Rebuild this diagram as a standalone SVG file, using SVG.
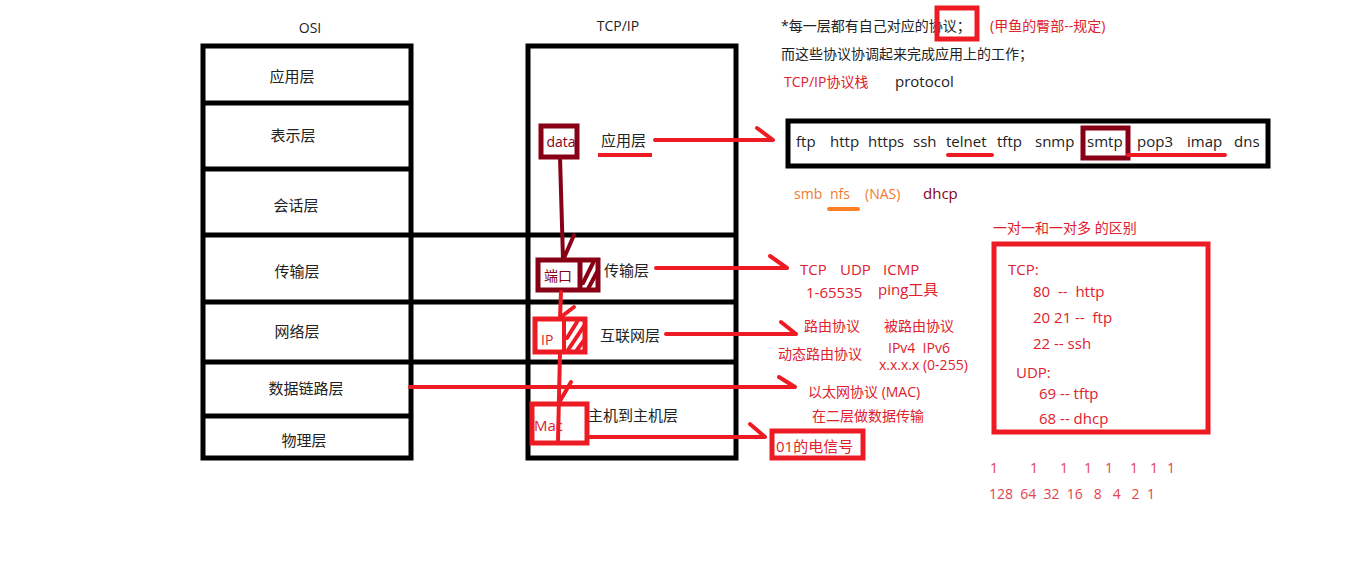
<svg xmlns="http://www.w3.org/2000/svg" width="1360" height="584" viewBox="0 0 1360 584">
<style>
text{font-family:"Open Sans","Noto Sans CJK SC",sans-serif;font-size:15px;fill:#222;dominant-baseline:central}
.c{text-anchor:middle}
.r{fill:#e0202c}
.dr{fill:#880015}
.o{fill:#f07a30}
.p{fill:#e2444e}
.bk{fill:none;stroke:#000;stroke-width:5}
.rl{fill:none;stroke:#ED1C24;stroke-width:4;stroke-linecap:round}
.rb{fill:none;stroke:#ED1C24;stroke-width:4}
.dl{fill:none;stroke:#880015;stroke-width:4;stroke-linecap:round}
.db{fill:none;stroke:#880015;stroke-width:5}
</style>
<rect width="1360" height="584" fill="#fff"/>

<g id="osi">
<text class="c" x="310" y="27" style="font-size:14px">OSI</text>
<rect class="bk" x="203" y="46" width="208" height="412"/>
<line class="bk" x1="203" y1="103" x2="411" y2="103"/>
<line class="bk" x1="203" y1="169" x2="411" y2="169"/>
<line class="bk" x1="203" y1="416" x2="411" y2="416"/>
<text class="c" x="292" y="76">应用层</text>
<text class="c" x="293" y="135">表示层</text>
<text class="c" x="296" y="205">会话层</text>
<text class="c" x="297" y="271">传输层</text>
<text class="c" x="297" y="331">网络层</text>
<text class="c" x="306" y="388">数据链路层</text>
<text class="c" x="304" y="440">物理层</text>
</g>

<g id="tcpip">
<text class="c" x="618" y="25" style="font-size:14px">TCP/IP</text>
<rect class="bk" x="528" y="46" width="208" height="412"/>
<line class="bk" x1="203" y1="235" x2="736" y2="235"/>
<line class="bk" x1="203" y1="302" x2="736" y2="302"/>
<line class="bk" x1="203" y1="362" x2="736" y2="362"/>
</g>

<g id="data">
<rect class="db" x="541" y="126" width="36" height="31" fill="#fff"/>
<text class="c dr" x="561" y="141" style="font-size:14px">data</text>
<text x="601" y="140">应用层</text>
<line x1="598" y1="155" x2="652" y2="155" stroke="#ED1C24" stroke-width="4"/>
</g>

<g id="port">
<rect class="db" x="538" y="260" width="60" height="30" fill="#fff"/>
<line class="db" x1="580" y1="260" x2="580" y2="290"/>
<line class="dl" x1="583" y1="283" x2="593" y2="263"/>
<line class="dl" x1="588" y1="289" x2="597" y2="272"/>
<text class="dr" x="544" y="275" style="font-size:14px">端口</text>
<text x="604" y="270">传输层</text>
</g>

<g id="ip">
<rect class="rb" x="535" y="319" width="50" height="33" fill="#fff" style="stroke-width:5"/>
<line class="rb" x1="564" y1="319" x2="564" y2="352"/>
<line class="rl" x1="567" y1="338" x2="577" y2="322"/>
<line class="rl" x1="568" y1="350" x2="584" y2="326"/>
<line class="rl" x1="577" y1="350" x2="585" y2="339"/>
<text class="r" x="541" y="339" style="font-size:14px">IP</text>
<text x="600" y="335">互联网层</text>
</g>

<g id="mac">
<rect class="rb" x="532" y="404" width="55" height="39" style="stroke-width:5"/>
<text class="r" x="534" y="425">Mac</text>
<text x="588" y="415">主机到主机层</text>
</g>

<g id="signal">
<rect class="rb" x="772" y="431" width="91" height="27" style="stroke-width:5"/>
<text class="r" x="776" y="446">01的电信号</text>
</g>

<g id="connectors">
<path class="dl" d="M560,157 L563,259 M574,235 L564,258"/>
<path class="rl" d="M561,292 L560,318 M574,307 L561,317"/>
<path class="rl" d="M560,352 L558,441 M571,382 L560,401"/>
<path class="rl" d="M655,140 L773,140 M757,128 L773,140"/>
<path class="rl" d="M656,268 L787,268 M770,256 L787,268"/>
<path class="rl" d="M666,334 L796,334 M781,322 L796,334"/>
<path class="rl" d="M410,387 L795,387 M779,377 L795,387"/>
<path class="rl" d="M588,437 L765,437 M750,424 L765,437"/>
</g>

<g id="notes">
<text x="781" y="25" style="font-size:14px">*每一层都有自己对应的协议；</text>
<rect class="rb" x="937" y="8" width="40" height="31" style="stroke-width:5"/>
<text class="r" x="990" y="25" style="font-size:14px">(甲鱼的臀部--规定)</text>
<text x="781" y="53" style="font-size:14px">而这些协议协调起来完成应用上的工作；</text>
<text class="r" x="784" y="81" style="font-size:14px">TCP/IP协议栈</text>
<text x="895" y="81">protocol</text>
</g>

<g id="protocols">
<rect class="bk" x="788" y="121" width="480" height="45"/>
<rect class="db" x="1083" y="128" width="45" height="30"/>
<line x1="948" y1="155" x2="992" y2="155" stroke="#ED1C24" stroke-width="4" stroke-linecap="round"/>
<line x1="1128" y1="155" x2="1225" y2="155" stroke="#ED1C24" stroke-width="4" stroke-linecap="round"/>
<text x="796" y="141">ftp</text>
<text x="830" y="141">http</text>
<text x="868" y="141">https</text>
<text x="913" y="141">ssh</text>
<text x="946" y="141">telnet</text>
<text x="997" y="141">tftp</text>
<text x="1035" y="141">snmp</text>
<text x="1087" y="141">smtp</text>
<text x="1137" y="141">pop3</text>
<text x="1187" y="141">imap</text>
<text x="1234" y="141">dns</text>
<text class="o" x="794" y="193" style="font-size:14px">smb</text>
<text class="o" x="830" y="193" style="font-size:14px">nfs</text>
<line x1="829" y1="209" x2="858" y2="209" stroke="#FF7F27" stroke-width="4" stroke-linecap="round"/>
<text class="o" x="865" y="193" style="font-size:14px">(NAS)</text>
<text class="dr" x="923" y="193">dhcp</text>
</g>

<g id="layer-notes">
<text class="r" x="800" y="269">TCP</text>
<text class="r" x="840" y="269">UDP</text>
<text class="r" x="883" y="269">ICMP</text>
<text class="r" x="806" y="292">1-65535</text>
<text class="r" x="878" y="289">ping工具</text>
<text class="r" x="804" y="325" style="font-size:14px">路由协议</text>
<text class="r" x="884" y="325" style="font-size:14px">被路由协议</text>
<text class="r" x="778" y="353" style="font-size:14px">动态路由协议</text>
<text class="r" x="888" y="347" style="font-size:14px" xml:space="preserve">IPv4  IPv6</text>
<text class="r" x="879" y="364" style="font-size:14px">x.x.x.x (0-255)</text>
<text class="r" x="808" y="391" style="font-size:14px">以太网协议 (MAC)</text>
<text class="r" x="812" y="415" style="font-size:14px">在二层做数据传输</text>
</g>

<g id="ports">
<text class="r" x="993" y="227" style="font-size:14px">一对一和一对多 的区别</text>
<rect class="rb" x="994" y="244" width="214" height="188" style="stroke-width:5"/>
<text class="r" x="1008" y="269">TCP:</text>
<text class="r" x="1033" y="291" xml:space="preserve">80  --  http</text>
<text class="r" x="1033" y="317" xml:space="preserve">20 21 --  ftp</text>
<text class="r" x="1033" y="343">22 -- ssh</text>
<text class="r" x="1016" y="372">UDP:</text>
<text class="r" x="1039" y="393">69 -- tftp</text>
<text class="r" x="1039" y="418">68 -- dhcp</text>
</g>

<g id="bits">
<text class="p" x="990" y="467" style="font-size:14px">1</text>
<text class="p" x="1030" y="467" style="font-size:14px">1</text>
<text class="p" x="1060" y="467" style="font-size:14px">1</text>
<text class="p" x="1084" y="467" style="font-size:14px">1</text>
<text class="p" x="1105" y="467" style="font-size:14px">1</text>
<text class="p" x="1130" y="467" style="font-size:14px">1</text>
<text class="p" x="1150" y="467" style="font-size:14px">1</text>
<text class="p" x="1167" y="467" style="font-size:14px">1</text>
<text class="p" x="989" y="493" style="font-size:14px" xml:space="preserve">128  64  32  16   8   4   2  1</text>
</g>
</svg>
